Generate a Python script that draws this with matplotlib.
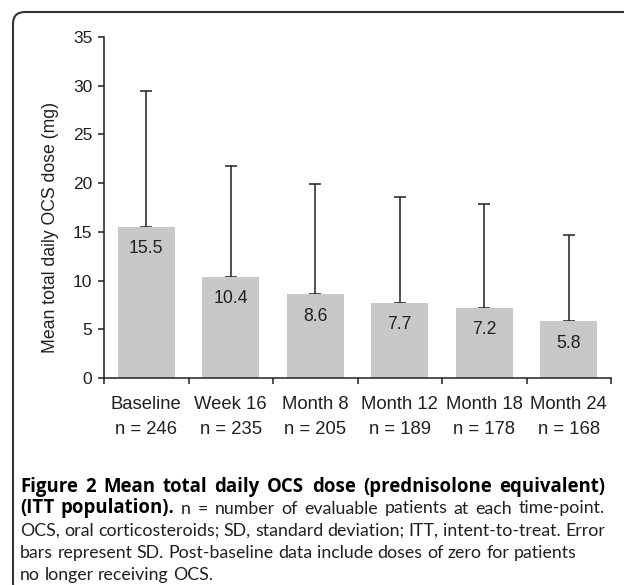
import numpy as np
import matplotlib
matplotlib.use("Agg")
import matplotlib.pyplot as plt
from matplotlib.patches import FancyBboxPatch
from matplotlib.transforms import IdentityTransform

plt.rcParams['font.family'] = ['Liberation Sans', 'DejaVu Sans']

# data
categories = ['Baseline', 'Week 16', 'Month 8', 'Month 12', 'Month 18', 'Month 24']
n_patients = [246, 235, 205, 189, 178, 168]
mean_dose = [15.5, 10.4, 8.6, 7.7, 7.2, 5.8]
sd_dose = [14.0, 11.4, 11.3, 10.9, 10.7, 8.9]

caption_lines = [
    [('Figure 2 Mean total daily OCS dose (prednisolone equivalent)', 'bold')],
    [('(ITT population).', 'bold'), ('n = number of evaluable patients at each time-point.', 'normal')],
    [('OCS, oral corticosteroids; SD, standard deviation; ITT, intent-to-treat. Error', 'normal')],
    [('bars represent SD. Post-baseline data include doses of zero for patients', 'normal')],
    [('no longer receiving OCS.', 'normal')],
]

W, H = 624, 585
txt = '#231f20'
fig = plt.figure(figsize=(W/100, H/100), dpi=100)
ax = fig.add_axes([104/W, 1-378/H, (611-104)/W, (378-37)/H])

x = np.arange(len(categories))
ax.bar(x, mean_dose, width=0.67, color='#c7c8ca', zorder=2)
ax.errorbar(x, mean_dose, yerr=[np.zeros(len(x)), sd_dose], fmt='none',
            ecolor=txt, elinewidth=1.1, capsize=4, capthick=1.1, zorder=1)

for xi, v in zip(x, mean_dose):
    ax.annotate(f'{v:.1f}', (xi, v), xytext=(0, -22), textcoords='offset pixels',
                ha='center', va='center', fontsize=12.7, color=txt)

ax.set_xlim(-0.5, len(categories)-0.5)
ax.set_ylim(0, 35)
ax.set_yticks(np.arange(0, 36, 5))
ax.set_xticks(np.arange(-0.5, len(categories), 1))
ax.set_xticklabels([])
ax.set_xticks(x, minor=True)
ax.set_xticklabels([f'{c}\nn = {n}' for c, n in zip(categories, n_patients)],
                   minor=True, linespacing=1.6)
ax.tick_params(axis='x', which='minor', length=0, pad=13, labelsize=13.3, labelcolor=txt)
ax.tick_params(axis='x', which='major', length=4.3, width=1.1, color=txt)
ax.tick_params(axis='y', length=4.3, width=1.1, color=txt, pad=4, labelsize=12.5, labelcolor=txt)

for s in ['top', 'right']:
    ax.spines[s].set_visible(False)
for s in ['left', 'bottom']:
    ax.spines[s].set_linewidth(1.1)
    ax.spines[s].set_color(txt)

ax.set_ylabel('Mean total daily OCS dose (mg)', fontsize=12.7, color=txt)
ax.yaxis.set_label_coords(-45/(611-104), (378-227)/(378-37))

# frame with rounded corner
frame = FancyBboxPatch((13, -10), 700, H-12+10, boxstyle='round,pad=0,rounding_size=12',
                       transform=IdentityTransform(), fill=False, lw=1.5, edgecolor='#333333')
fig.add_artist(frame)

# caption, justified word by word
reg_font = 'Lato'
bold_font = 'Open Sans'
renderer = fig.canvas.get_renderer()


def fit_size(s, family, weight, target):
    p = fig.text(0, 0, s, fontfamily=family, fontsize=12, fontweight=weight)
    w = p.get_window_extent(renderer).width
    p.remove()
    return 12 * target / w


reg_size = fit_size(caption_lines[2][0][0], reg_font, 'normal', 582)
bold_size = min(fit_size(caption_lines[0][0][0], bold_font, 'bold', 578), reg_size * 1.05)

x0, x1 = 20, 605
baselines = [491.7, 513.5, 535.7, 558, 580]
justify = [True, True, True, False, False]


def put_line(parts, yb, just):
    items = []
    for s, wt in parts:
        fam = bold_font if wt == 'bold' else reg_font
        size = bold_size if wt == 'bold' else reg_size
        for w in s.split(' '):
            t = fig.text(0, 1-yb/H, w, fontfamily=fam, fontsize=size, fontweight=wt,
                         va='baseline', color='black' if wt == 'bold' else txt)
            items.append((t, t.get_window_extent(renderer).width))
    total = sum(wd for _, wd in items)
    gap = (x1 - x0 - total) / (len(items) - 1) if just else reg_size * 1.39 * 0.25
    cx = x0
    for t, wd in items:
        t.set_x(cx / W)
        cx += wd + gap


for parts, yb, j in zip(caption_lines, baselines, justify):
    put_line(parts, yb, j)

fig.savefig('out.png', dpi=100)
